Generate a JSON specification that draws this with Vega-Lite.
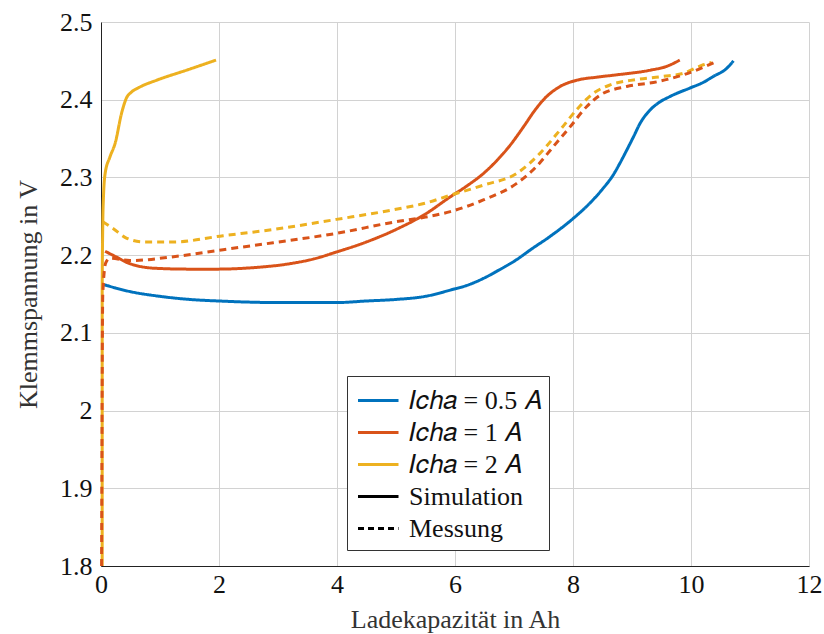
{
  "$schema": "https://vega.github.io/schema/vega-lite/v6.json",
  "autosize": {"type": "none"},
  "padding": {"left": 101, "top": 22, "right": 15, "bottom": 68},
  "width": 708,
  "height": 544,
  "background": "white",
  "config": {
    "view": {"stroke": null},
    "font": "Liberation Serif",
    "axis": {"labelFont": "Liberation Serif", "titleFont": "Liberation Serif", "labelColor": "#111", "titleColor": "#333", "titleFontWeight": "normal", "labelFontSize": 26, "titleFontSize": 26, "gridColor": "#d2d2d2", "gridWidth": 1, "domainColor": "#222", "ticks": false}
  },
  "data": {"values": [
    {"x":0.05,"v":2.162,"c":"a","t":"sim"},{"x":0.5,"v":2.153,"c":"a","t":"sim"},{"x":1.0,"v":2.147,"c":"a","t":"sim"},{"x":1.5,"v":2.143,"c":"a","t":"sim"},{"x":2.0,"v":2.141,"c":"a","t":"sim"},{"x":3.0,"v":2.139,"c":"a","t":"sim"},{"x":3.5,"v":2.139,"c":"a","t":"sim"},{"x":4.0,"v":2.139,"c":"a","t":"sim"},{"x":4.5,"v":2.141,"c":"a","t":"sim"},{"x":5.0,"v":2.143,"c":"a","t":"sim"},{"x":5.5,"v":2.147,"c":"a","t":"sim"},{"x":5.92,"v":2.155,"c":"a","t":"sim"},{"x":6.2,"v":2.161,"c":"a","t":"sim"},{"x":6.48,"v":2.170,"c":"a","t":"sim"},{"x":6.75,"v":2.181,"c":"a","t":"sim"},{"x":7.04,"v":2.194,"c":"a","t":"sim"},{"x":7.3,"v":2.208,"c":"a","t":"sim"},{"x":7.61,"v":2.224,"c":"a","t":"sim"},{"x":8.0,"v":2.247,"c":"a","t":"sim"},{"x":8.3,"v":2.268,"c":"a","t":"sim"},{"x":8.5,"v":2.285,"c":"a","t":"sim"},{"x":8.68,"v":2.303,"c":"a","t":"sim"},{"x":8.8,"v":2.319,"c":"a","t":"sim"},{"x":8.91,"v":2.335,"c":"a","t":"sim"},{"x":9.03,"v":2.353,"c":"a","t":"sim"},{"x":9.14,"v":2.370,"c":"a","t":"sim"},{"x":9.31,"v":2.387,"c":"a","t":"sim"},{"x":9.45,"v":2.396,"c":"a","t":"sim"},{"x":9.64,"v":2.404,"c":"a","t":"sim"},{"x":9.98,"v":2.415,"c":"a","t":"sim"},{"x":10.2,"v":2.422,"c":"a","t":"sim"},{"x":10.38,"v":2.430,"c":"a","t":"sim"},{"x":10.6,"v":2.440,"c":"a","t":"sim"},{"x":10.72,"v":2.450,"c":"a","t":"sim"},

    {"x":0.07,"v":2.205,"c":"b","t":"sim"},{"x":0.25,"v":2.198,"c":"b","t":"sim"},{"x":0.49,"v":2.189,"c":"b","t":"sim"},{"x":0.94,"v":2.183,"c":"b","t":"sim"},{"x":1.5,"v":2.182,"c":"b","t":"sim"},{"x":1.96,"v":2.182,"c":"b","t":"sim"},{"x":2.6,"v":2.184,"c":"b","t":"sim"},{"x":3.2,"v":2.189,"c":"b","t":"sim"},{"x":3.6,"v":2.195,"c":"b","t":"sim"},{"x":3.99,"v":2.204,"c":"b","t":"sim"},{"x":4.5,"v":2.217,"c":"b","t":"sim"},{"x":5.0,"v":2.233,"c":"b","t":"sim"},{"x":5.5,"v":2.253,"c":"b","t":"sim"},{"x":5.92,"v":2.275,"c":"b","t":"sim"},{"x":6.2,"v":2.289,"c":"b","t":"sim"},{"x":6.48,"v":2.305,"c":"b","t":"sim"},{"x":6.7,"v":2.321,"c":"b","t":"sim"},{"x":6.93,"v":2.341,"c":"b","t":"sim"},{"x":7.16,"v":2.365,"c":"b","t":"sim"},{"x":7.35,"v":2.386,"c":"b","t":"sim"},{"x":7.5,"v":2.40,"c":"b","t":"sim"},{"x":7.78,"v":2.417,"c":"b","t":"sim"},{"x":8.06,"v":2.425,"c":"b","t":"sim"},{"x":8.4,"v":2.429,"c":"b","t":"sim"},{"x":8.74,"v":2.432,"c":"b","t":"sim"},{"x":9.31,"v":2.438,"c":"b","t":"sim"},{"x":9.59,"v":2.443,"c":"b","t":"sim"},{"x":9.81,"v":2.451,"c":"b","t":"sim"},

    {"x":0.02,"v":1.8,"c":"c","t":"sim"},{"x":0.02,"v":2.15,"c":"c","t":"sim"},{"x":0.03,"v":2.24,"c":"c","t":"sim"},{"x":0.04,"v":2.271,"c":"c","t":"sim"},{"x":0.07,"v":2.305,"c":"c","t":"sim"},{"x":0.15,"v":2.326,"c":"c","t":"sim"},{"x":0.24,"v":2.344,"c":"c","t":"sim"},{"x":0.35,"v":2.383,"c":"c","t":"sim"},{"x":0.43,"v":2.402,"c":"c","t":"sim"},{"x":0.52,"v":2.41,"c":"c","t":"sim"},{"x":0.65,"v":2.416,"c":"c","t":"sim"},{"x":0.94,"v":2.425,"c":"c","t":"sim"},{"x":1.45,"v":2.438,"c":"c","t":"sim"},{"x":1.95,"v":2.451,"c":"c","t":"sim"},

    {"x":0.03,"v":2.243,"c":"c","t":"mess"},{"x":0.21,"v":2.234,"c":"c","t":"mess"},{"x":0.43,"v":2.222,"c":"c","t":"mess"},{"x":0.72,"v":2.217,"c":"c","t":"mess"},{"x":1.23,"v":2.217,"c":"c","t":"mess"},{"x":2.07,"v":2.225,"c":"c","t":"mess"},{"x":2.92,"v":2.233,"c":"c","t":"mess"},{"x":3.99,"v":2.246,"c":"c","t":"mess"},{"x":5.0,"v":2.259,"c":"c","t":"mess"},{"x":5.5,"v":2.267,"c":"c","t":"mess"},{"x":5.92,"v":2.277,"c":"c","t":"mess"},{"x":6.48,"v":2.29,"c":"c","t":"mess"},{"x":7.04,"v":2.305,"c":"c","t":"mess"},{"x":7.44,"v":2.331,"c":"c","t":"mess"},{"x":7.78,"v":2.361,"c":"c","t":"mess"},{"x":8.06,"v":2.387,"c":"c","t":"mess"},{"x":8.34,"v":2.408,"c":"c","t":"mess"},{"x":8.63,"v":2.419,"c":"c","t":"mess"},{"x":9.08,"v":2.426,"c":"c","t":"mess"},{"x":9.53,"v":2.430,"c":"c","t":"mess"},{"x":9.87,"v":2.434,"c":"c","t":"mess"},{"x":10.21,"v":2.445,"c":"c","t":"mess"},{"x":10.35,"v":2.448,"c":"c","t":"mess"},

    {"x":0.01,"v":1.8,"c":"b","t":"mess"},{"x":0.03,"v":2.15,"c":"b","t":"mess"},{"x":0.08,"v":2.19,"c":"b","t":"mess"},{"x":0.15,"v":2.196,"c":"b","t":"mess"},{"x":0.49,"v":2.193,"c":"b","t":"mess"},{"x":1.23,"v":2.198,"c":"b","t":"mess"},{"x":2.07,"v":2.207,"c":"b","t":"mess"},{"x":2.92,"v":2.216,"c":"b","t":"mess"},{"x":3.99,"v":2.228,"c":"b","t":"mess"},{"x":5.0,"v":2.243,"c":"b","t":"mess"},{"x":5.5,"v":2.249,"c":"b","t":"mess"},{"x":5.92,"v":2.256,"c":"b","t":"mess"},{"x":6.48,"v":2.271,"c":"b","t":"mess"},{"x":7.04,"v":2.292,"c":"b","t":"mess"},{"x":7.38,"v":2.314,"c":"b","t":"mess"},{"x":7.67,"v":2.34,"c":"b","t":"mess"},{"x":7.95,"v":2.365,"c":"b","t":"mess"},{"x":8.23,"v":2.391,"c":"b","t":"mess"},{"x":8.46,"v":2.406,"c":"b","t":"mess"},{"x":8.91,"v":2.417,"c":"b","t":"mess"},{"x":9.42,"v":2.423,"c":"b","t":"mess"},{"x":9.87,"v":2.432,"c":"b","t":"mess"},{"x":10.43,"v":2.449,"c":"b","t":"mess"}
  ]},
  "mark": {"type": "line", "strokeWidth": 3, "interpolate": "monotone"},
  "encoding": {
    "x": {"field": "x", "type": "quantitative", "scale": {"domain": [0, 12], "nice": false, "zero": false},
      "axis": {"title": "Ladekapazität in Ah", "values": [0,2,4,6,8,10,12], "format": "d", "labelPadding": 5, "titlePadding": 9, "labelFlush": false}},
    "y": {"field": "v", "type": "quantitative", "scale": {"domain": [1.8, 2.5], "nice": false, "zero": false},
      "axis": {"title": "Klemmspannung in V", "values": [1.8,1.9,2.0,2.1,2.2,2.3,2.4,2.5], "format": ".1~f", "labelPadding": 9, "titlePadding": 18, "labelFlush": false}},
    "color": {"field": "c", "type": "nominal",
      "scale": {"domain": ["a","b","c","sim","mess"], "range": ["#0072BD","#D95319","#EDB120","#000000","#000000"]},
      "legend": {"title": null, "orient": "none", "legendX": 246, "legendY": 354,
        "labelExpr": "datum.value == 'a' ? '𝐼𝑐ℎ𝑎 = 0.5 𝐴' : datum.value == 'b' ? '𝐼𝑐ℎ𝑎 = 1 𝐴' : datum.value == 'c' ? '𝐼𝑐ℎ𝑎 = 2 𝐴' : datum.value == 'sim' ? 'Simulation' : 'Messung'",
        "labelFont": "Liberation Serif", "labelFontSize": 26, "labelColor": "#111", "labelOffset": 21, "labelLimit": 300,
        "symbolType": "M-0.9,0H1.8", "symbolSize": 900, "symbolStrokeWidth": 3, "rowPadding": 2,
        "padding": 8, "strokeColor": "#333", "fillColor": "white",
        "encode": {"symbols": {"update": {"strokeDash": {"signal": "datum.value == 'mess' ? [6,4] : [1,0]"}}}}}},
    "strokeDash": {"field": "t", "type": "nominal", "scale": {"domain": ["sim","mess"], "range": [[1,0],[7,5]]}, "legend": null}
  }
}
